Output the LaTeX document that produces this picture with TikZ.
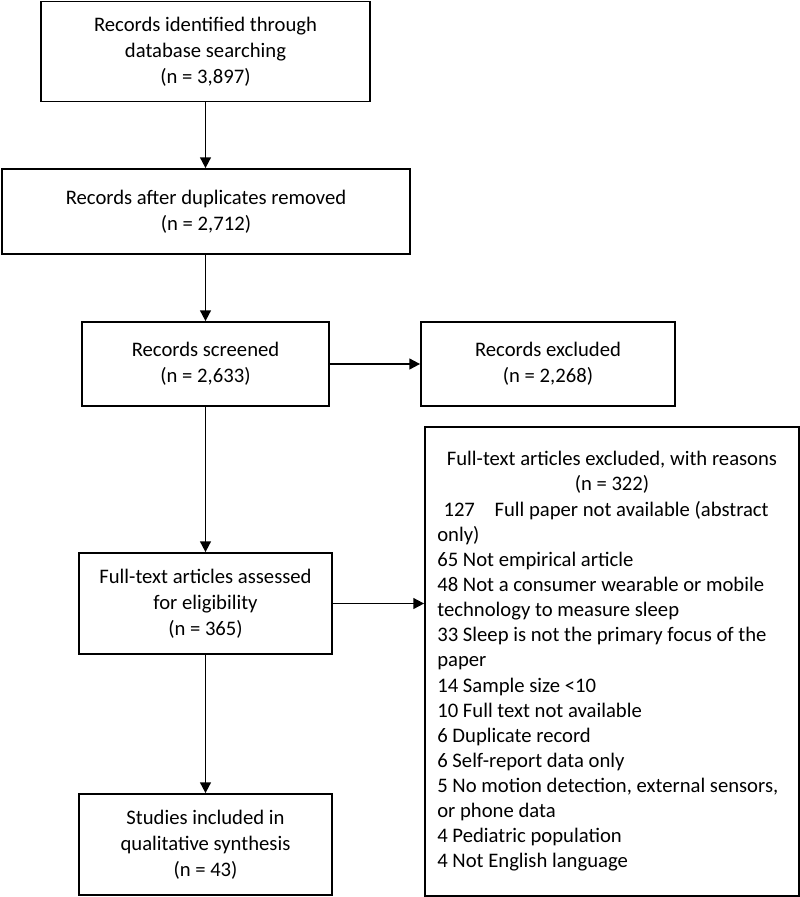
\documentclass[tikz,border=0pt]{standalone}
\usepackage{fontspec}
\setmainfont{Carlito}
\usetikzlibrary{arrows.meta}
\begin{document}
\begin{tikzpicture}[x=0.75pt,y=-0.75pt,
  every node/.style={font=\fontsize{15.5}{19.6}\selectfont},
  box/.style={draw, line width=1.3pt, inner sep=0pt, align=center, text=black},
  arr/.style={line width=1.3pt, -{Triangle[length=8pt,width=8pt]}}]
\useasboundingbox (0,0) rectangle (800,897);
\node[box, minimum width=329*0.75pt, minimum height=100*0.75pt] (b1) at (205.5,51.5)
  {Records identified through\\database searching\\(n = 3,897)};
\node[box, minimum width=408*0.75pt, minimum height=85*0.75pt] (b2) at (206,211.5)
  {Records after duplicates removed\\(n = 2,712)};
\node[box, minimum width=247*0.75pt, minimum height=84*0.75pt] (b3) at (205.5,364)
  {Records screened\\(n = 2,633)};
\node[box, minimum width=254*0.75pt, minimum height=84*0.75pt] (b4) at (548,364)
  {Records excluded\\(n = 2,268)};
\node[box, minimum width=253*0.75pt, minimum height=101*0.75pt] (b6) at (205.5,603.5)
  {Full-text articles assessed\\for eligibility\\(n = 365)};
\node[box, minimum width=253*0.75pt, minimum height=101*0.75pt] (b7) at (205.5,844.5)
  {Studies included in\\qualitative synthesis\\(n = 43)};
\node[box, minimum width=374*0.75pt, minimum height=469*0.75pt] (b5) at (612,661.5)
  {\begin{minipage}{262pt}\fontsize{15.5}{18.85}\selectfont\centering
  Full-text articles excluded, with reasons\\(n = 322)\par
  \raggedright
  \hspace*{0.3em}127\hspace{0.95em}Full paper not available (abstract\\
  only)\\
  65 Not empirical article\\
  48 Not a consumer wearable or mobile\\
  technology to measure sleep\\
  33 Sleep is not the primary focus of the\\
  paper\\
  14 Sample size <10\\
  10 Full text not available\\
  6 Duplicate record\\
  6 Self-report data only\\
  5 No motion detection, external sensors,\\
  or phone data\\
  4 Pediatric population\\
  4 Not English language\par
  \end{minipage}};
\draw[arr] (b1.south) -- (b1.south |- b2.north);
\draw[arr] (b2.south -| b3.north) -- (b3.north);
\draw[arr] (b3.east) -- (b4.west);
\draw[arr] (b3.south) -- (b6.north);
\draw[arr] (b6.east) -- (b6.east -| b5.west);
\draw[arr] (b6.south) -- (b7.north);
\end{tikzpicture}
\end{document}
